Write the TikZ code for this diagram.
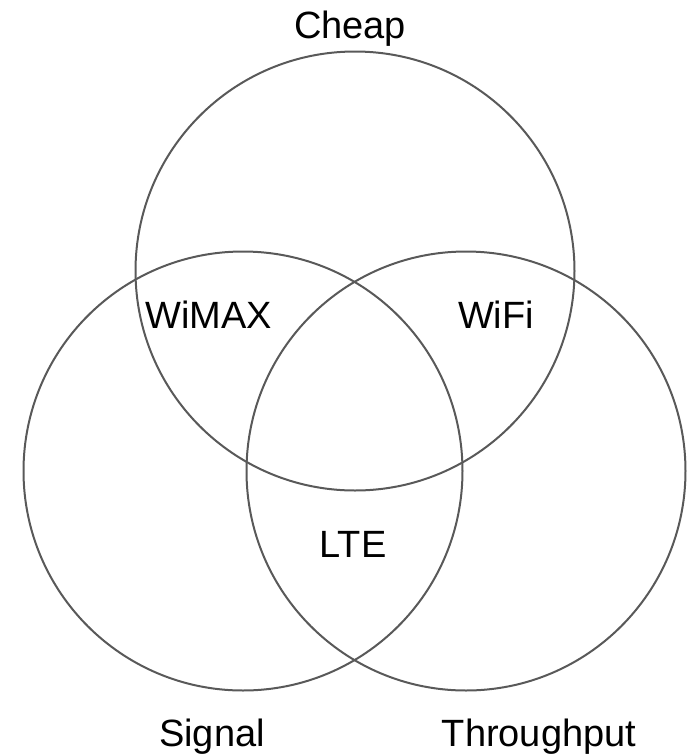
\documentclass[tikz,border=0pt]{standalone}
\usepackage{fontspec}
\setmainfont{Liberation Sans}
\usetikzlibrary{positioning}

\begin{document}
\begin{tikzpicture}[x=1pt,y=-1pt]
   \tikzstyle{set}=[circle,draw=black!65,line width=2pt,inner sep=0pt,minimum size=439pt]
   \tikzstyle{lbl}=[anchor=base,inner sep=0pt,font=\fontsize{38}{40}\selectfont]

   \useasboundingbox (0,0) rectangle (688,756);

   % the three sets
   \node (cheap)  [set] at (355,271) {};
   \node (signal) [set] at (243,471) {};
   \node (thru)   [set] at (466,471) {};

   % set names
   \node (lcheap)  [lbl] at (350,38)  {Cheap};
   \node (lsignal) [lbl] at (212,746) {Signal};
   \node (lthru)   [lbl] at (539,746) {Throughput};

   % overlaps
   \node (wimax) [lbl] at (209,328) {WiMAX};
   \node (wifi)  [lbl] at (496,328) {WiFi};
   \node (lte)   [lbl] at (353,557) {LTE};
\end{tikzpicture}
\end{document}
